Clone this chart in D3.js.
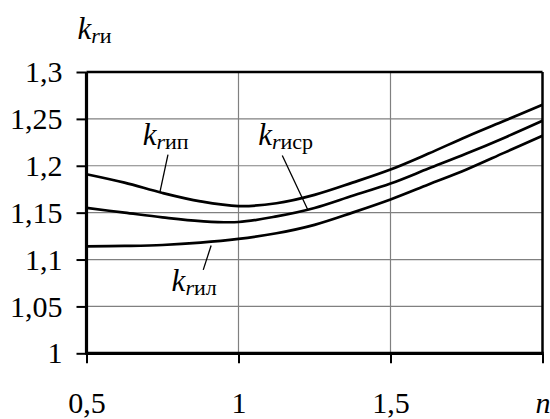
<!DOCTYPE html>
<html>
<head>
<meta charset="utf-8">
<script src="https://cdn.jsdelivr.net/npm/d3@7"></script>
<style>
  body { margin: 0; background: #fff; }
  svg text { font-family: "Liberation Serif", Tinos, "Times New Roman", "DejaVu Serif", serif; fill: #000; }
</style>
</head>
<body>
<div id="chart"></div>
<script>
// Data
const nValues = [0.5, 0.625, 0.75, 0.875, 1.0, 1.125, 1.25, 1.375, 1.5, 1.625, 1.75, 1.875, 2.0];
const kUpper  = [1.191, 1.182, 1.171, 1.162, 1.157, 1.160, 1.169, 1.182, 1.196, 1.213, 1.231, 1.248, 1.265]; // k_rип
const kMiddle = [1.155, 1.150, 1.145, 1.141, 1.140, 1.146, 1.155, 1.168, 1.181, 1.197, 1.213, 1.230, 1.248]; // k_rиср
const kLower  = [1.114, 1.1145, 1.1155, 1.118, 1.122, 1.128, 1.137, 1.150, 1.164, 1.180, 1.196, 1.214, 1.232]; // k_rил

const yTicks = [1, 1.05, 1.1, 1.15, 1.2, 1.25, 1.3];
const yTickLabels = ["1", "1,05", "1,1", "1,15", "1,2", "1,25", "1,3"];
const xTicks = [0.5, 1, 1.5, 2];
const xTickLabels = ["0,5", "1", "1,5", "n"];

const seriesNames = ["ип", "иср", "ил"];

const serif = "'Liberation Serif', Tinos, 'Times New Roman', serif";

// Set the dimensions and margins of the graph
const margin = {top: 72, right: 7.5, bottom: 65.7, left: 86.5},
    width = 550 - margin.left - margin.right,
    height = 419 - margin.top - margin.bottom;

const svg = d3.select("#chart")
    .append("svg")
    .attr("width", 550)
    .attr("height", 419)
    .append("g")
    .attr("transform", `translate(${margin.left}, ${margin.top})`);

const x = d3.scaleLinear().domain([0.5, 2]).range([0, width]);
const y = d3.scaleLinear().domain([1, 1.3]).range([height, 0]);

// Grid
svg.selectAll("hgrid")
    .data(yTicks.slice(1, -1))
    .join("line")
    .attr("x1", 0).attr("x2", width)
    .attr("y1", d => y(d)).attr("y2", d => y(d))
    .attr("stroke", "#808080").attr("stroke-width", 1.2);
svg.selectAll("vgrid")
    .data(xTicks.slice(1, -1))
    .join("line")
    .attr("x1", d => x(d)).attr("x2", d => x(d))
    .attr("y1", 0).attr("y2", height)
    .attr("stroke", "#808080").attr("stroke-width", 1.2);

// Frame top / right
svg.append("line").attr("x1", 0).attr("x2", width).attr("y1", 0).attr("y2", 0)
    .attr("stroke", "#000").attr("stroke-width", 2.5);
svg.append("line").attr("x1", width).attr("x2", width).attr("y1", 0).attr("y2", height)
    .attr("stroke", "#000").attr("stroke-width", 2.5);

// Y axis
const yAxis = svg.append("g")
    .attr("font-family", serif)
    .call(d3.axisLeft(y).tickValues(yTicks).tickSize(10).tickPadding(14)
        .tickFormat((d, i) => yTickLabels[i]));
yAxis.attr("font-family", serif);
yAxis.select(".domain").attr("stroke-width", 3.2).attr("d", `M0,${height + 1.5}V0`);
yAxis.selectAll(".tick line").attr("stroke-width", 2);
yAxis.selectAll(".tick text")
    .attr("font-family", serif)
    .style("font-size", "30px")
    .attr("dy", "0.32em");

// X axis
const xAxis = svg.append("g")
    .attr("transform", `translate(0, ${height})`)
    .call(d3.axisBottom(x).tickValues(xTicks).tickSize(10).tickPadding(28)
        .tickFormat((d, i) => xTickLabels[i]));
xAxis.attr("font-family", serif);
xAxis.select(".domain").attr("stroke-width", 3.2).attr("d", `M0,0H${width + 1.2}`);
xAxis.selectAll(".tick line").attr("stroke-width", 2);
xAxis.selectAll(".tick text")
    .attr("font-family", serif)
    .style("font-size", "30px")
    .style("font-style", (d, i) => xTickLabels[i] === "n" ? "italic" : "normal")
    .attr("dy", "0.71em");

// Curves
const line = d3.line()
    .x(d => x(d[0]))
    .y(d => y(d[1]))
    .curve(d3.curveCatmullRom.alpha(0.5));

[kUpper, kMiddle, kLower].forEach(series => {
    svg.append("path")
        .datum(nValues.map((n, i) => [n, series[i]]))
        .attr("fill", "none")
        .attr("stroke", "#000")
        .attr("stroke-width", 2.7)
        .attr("d", line);
});

// Curve labels: text baseline start, leader line start and end, in data units
const labelN = [0.685, 1.065, 0.78];
const labelK = [1.222, 1.222, 1.066];
const leaderFrom = [[0.768, 1.212], [1.144, 1.211], [0.884, 1.089]];
const leaderTo   = [[0.741, 1.171], [1.228, 1.153], [0.910, 1.115]];

function kLabel(sel, sub) {
    sel.append("tspan").text("k")
        .style("font-size", "31px").style("font-style", "italic");
    sel.append("tspan").text("r")
        .attr("dy", 4)
        .style("font-size", "22px").style("font-style", "italic");
    sel.append("tspan").text(sub)
        .style("font-size", "22px");
}

seriesNames.forEach((name, i) => {
    svg.append("text")
        .attr("font-family", serif)
        .attr("x", x(labelN[i]))
        .attr("y", y(labelK[i]))
        .call(kLabel, name);
    svg.append("line")
        .attr("x1", x(leaderFrom[i][0])).attr("y1", y(leaderFrom[i][1]))
        .attr("x2", x(leaderTo[i][0])).attr("y2", y(leaderTo[i][1]))
        .attr("stroke", "#000").attr("stroke-width", 1.3);
});

// Y axis title
svg.append("text")
    .attr("font-family", serif)
    .attr("x", -9)
    .attr("y", -33)
    .call(kLabel, "и");
</script>
</body>
</html>
